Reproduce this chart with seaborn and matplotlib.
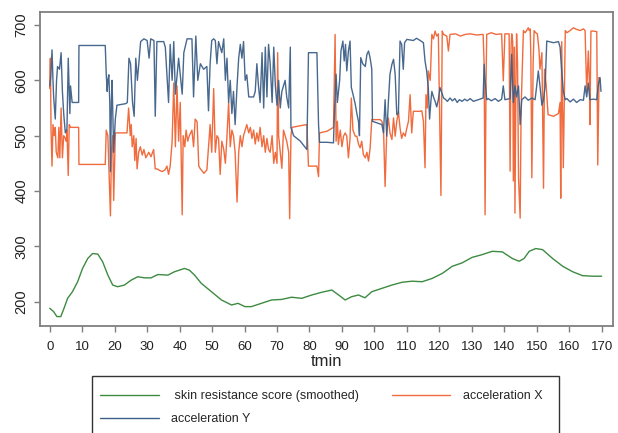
import matplotlib
matplotlib.use("Agg")
import matplotlib.pyplot as plt
import matplotlib.patches as mpatches
from matplotlib.lines import Line2D
import pandas as pd
import seaborn as sns

# skin resistance score (smoothed), (tmin, value)
skin_points = [
    (0, 188), (1.2, 182), (2.2, 173), (3.4, 173), (4.4, 188), (5.5, 206), (7.0, 218),
    (8.6, 236), (10.1, 260), (11.7, 278), (13.2, 287), (14.8, 286), (16.3, 272),
    (17.9, 248), (19.4, 230), (20.9, 227), (23.0, 230), (25.1, 239), (27.1, 245),
    (29.2, 243), (31.2, 243), (33.3, 249), (36.4, 248), (38.4, 254), (41.5, 260),
    (43.0, 257), (44.6, 248), (46.7, 233), (49.8, 218), (52.9, 203), (56.0, 194),
    (58.0, 197), (60.1, 191), (62.1, 191), (65.2, 197), (68.3, 203), (71.4, 204),
    (74.5, 208), (77.6, 206), (80.7, 212), (83.8, 217), (86.9, 221), (89.0, 212),
    (91.0, 203), (93.0, 209), (95.1, 212), (97.1, 207), (99.2, 218), (102.3, 224),
    (105.4, 230), (108.5, 235), (111.6, 237), (114.7, 236), (117.8, 242), (120.9, 251),
    (124.0, 264), (127.0, 270), (130.1, 280), (133.2, 285), (136.3, 291), (139.4, 290),
    (142.5, 278), (144.6, 273), (146.1, 278), (147.7, 291), (149.7, 296), (151.8, 294),
    (154.9, 278), (158.0, 264), (161.1, 254), (164.1, 247), (167.2, 246), (170.0, 246),
]

# acceleration X
acc_x_points = [
    (0.0, 585), (0.2, 640), (0.4, 510), (0.7, 445), (1.0, 520), (1.4, 500), (1.7, 515),
    (2.0, 470), (2.5, 460), (2.8, 515), (3.1, 460), (3.5, 550), (3.9, 460), (4.3, 500),
    (4.8, 495), (5.1, 490), (5.3, 510), (5.7, 428), (6.0, 520), (6.4, 515), (8.9, 515),
    (9.0, 448), (17.1, 448), (17.4, 510), (17.9, 500), (18.3, 430), (18.7, 355),
    (19.0, 470), (19.4, 500), (19.7, 383), (20.2, 505), (23.8, 505), (24.3, 550),
    (24.8, 500), (25.1, 520), (25.4, 480), (25.9, 500), (26.2, 455), (26.6, 495),
    (26.9, 440), (27.4, 470), (27.9, 480), (28.5, 465), (29.0, 475), (29.6, 460),
    (30.5, 470), (31.2, 462), (32.0, 475), (32.5, 440), (33.0, 440), (34.6, 435),
    (35.5, 438), (36.1, 445), (36.6, 430), (37.1, 445), (37.7, 490), (38.2, 595),
    (38.7, 480), (39.2, 590), (39.7, 490), (40.2, 560), (40.8, 357), (41.1, 500),
    (41.6, 480), (42.0, 510), (42.5, 490), (43.0, 500), (43.8, 510), (44.3, 480),
    (44.8, 530), (45.4, 525), (45.9, 445), (46.4, 440), (47.5, 432), (48.4, 438),
    (48.9, 480), (49.4, 520), (49.9, 470), (50.5, 585), (51.0, 470), (51.5, 500),
    (52.0, 495), (52.5, 430), (53.0, 490), (53.6, 475), (54.1, 450), (54.6, 500),
    (55.1, 560), (55.6, 480), (56.1, 510), (56.6, 500), (57.1, 470), (57.7, 380),
    (58.2, 470), (58.7, 500), (59.2, 480), (59.7, 500), (60.2, 510), (60.7, 520),
    (61.3, 505), (61.8, 515), (62.3, 495), (62.8, 510), (63.3, 485), (63.8, 505),
    (64.3, 490), (64.8, 515), (65.4, 480), (65.9, 500), (66.4, 470), (66.9, 495),
    (67.4, 475), (67.9, 470), (68.5, 500), (69.0, 450), (69.5, 470), (70.0, 450),
    (70.2, 650), (70.5, 500), (71.0, 470), (71.5, 441), (72.0, 510), (72.5, 500),
    (73.0, 490), (73.6, 470), (73.9, 350), (74.3, 500), (74.6, 515), (77.2, 518),
    (79.2, 520), (79.7, 445), (82.3, 445), (82.8, 426), (83.1, 505), (85.4, 508),
    (87.4, 515), (87.9, 683), (88.2, 490), (88.6, 526), (88.9, 484), (89.5, 510),
    (90.0, 480), (90.5, 499), (91.0, 505), (91.5, 499), (92.0, 460), (92.5, 495),
    (92.9, 568), (93.4, 510), (94.1, 499), (94.6, 499), (95.1, 485), (95.6, 478),
    (96.1, 490), (96.6, 466), (97.2, 460), (97.7, 470), (98.2, 454), (98.7, 478),
    (99.2, 529), (101.8, 529), (102.3, 526), (102.8, 514), (103.3, 408), (103.8, 505),
    (104.3, 532), (104.8, 505), (105.4, 493), (105.9, 532), (106.4, 499), (106.9, 526),
    (107.4, 544), (107.9, 514), (108.4, 495), (108.9, 505), (109.5, 499), (110.0, 514),
    (110.5, 526), (111.0, 574), (111.5, 505), (112.0, 544), (114.1, 544), (114.6, 545),
    (115.1, 526), (115.6, 442), (115.9, 574), (116.3, 550), (116.6, 617), (117.2, 600),
    (117.7, 683), (118.2, 675), (118.7, 689), (119.2, 680), (119.7, 684), (120.5, 392),
    (120.9, 689), (121.3, 683), (122.3, 680), (122.8, 653), (123.3, 683), (125.0, 684),
    (126.5, 680), (128.0, 683), (129.5, 684), (131.5, 682), (133.5, 683), (133.8, 630),
    (134.1, 357), (134.4, 600), (134.6, 683), (136.0, 686), (137.5, 683), (139.2, 684),
    (139.7, 599), (140.2, 684), (141.5, 684), (141.8, 436), (142.1, 660), (142.3, 684),
    (142.6, 670), (142.8, 418), (143.1, 660), (143.3, 360), (143.6, 599), (143.8, 684),
    (144.1, 630), (144.4, 424), (144.9, 351), (145.2, 550), (145.6, 630), (145.9, 690),
    (146.4, 686), (146.9, 690), (147.4, 695), (147.7, 690), (148.0, 693), (148.2, 640),
    (148.5, 424), (148.9, 630), (149.2, 690), (149.7, 686), (150.2, 684), (150.7, 655),
    (151.0, 620), (151.6, 650), (152.1, 405), (152.4, 620), (152.9, 592), (153.5, 538),
    (155.2, 535), (156.7, 540), (157.2, 560), (157.4, 387), (157.7, 670), (158.2, 442),
    (158.8, 690), (159.3, 686), (160.3, 690), (161.3, 695), (162.3, 692), (163.4, 690),
    (164.4, 693), (164.9, 690), (165.4, 580), (165.9, 653), (166.2, 600), (166.4, 520),
    (166.7, 689), (167.5, 689), (168.5, 688), (168.8, 447), (169.2, 605), (169.5, 600),
]

# acceleration Y
acc_y_points = [
    (0.0, 590), (0.3, 605), (0.7, 655), (1.0, 600), (1.2, 570), (1.7, 530), (2.1, 600),
    (2.4, 625), (3.0, 620), (3.5, 650), (3.9, 580), (4.3, 540), (4.8, 505), (5.3, 512),
    (5.7, 640), (6.2, 540), (6.4, 590), (6.9, 560), (8.9, 560), (9.0, 663), (17.1, 663),
    (17.4, 612), (17.7, 580), (17.9, 600), (18.2, 610), (18.5, 560), (18.7, 435),
    (19.0, 560), (19.2, 600), (19.7, 470), (20.2, 530), (20.7, 555), (23.5, 558),
    (23.9, 560), (24.4, 640), (24.9, 630), (25.5, 560), (26.0, 535), (26.5, 640),
    (27.0, 600), (28.0, 670), (29.0, 675), (30.0, 672), (30.6, 640), (31.1, 675),
    (32.1, 672), (32.5, 535), (33.0, 670), (35.1, 670), (35.6, 660), (36.6, 560),
    (37.1, 665), (37.7, 600), (38.2, 670), (38.7, 575), (39.7, 640), (40.8, 575),
    (41.3, 650), (42.3, 675), (43.8, 675), (44.3, 570), (45.0, 680), (45.6, 600),
    (46.4, 630), (47.4, 620), (48.4, 625), (48.9, 545), (49.4, 630), (49.9, 672),
    (50.5, 675), (51.0, 672), (51.5, 630), (52.0, 670), (53.0, 650), (53.6, 675),
    (54.1, 600), (54.6, 640), (55.1, 560), (55.6, 600), (56.1, 540), (56.6, 580),
    (57.1, 520), (57.7, 590), (58.2, 640), (58.7, 665), (59.2, 640), (59.7, 670),
    (60.2, 600), (60.7, 610), (61.3, 570), (62.8, 570), (63.3, 580), (63.8, 630),
    (64.3, 590), (64.8, 560), (65.4, 650), (65.9, 550), (66.4, 660), (66.9, 570),
    (67.4, 665), (67.9, 630), (68.5, 560), (69.0, 660), (69.5, 590), (70.0, 555),
    (70.5, 600), (71.0, 550), (71.5, 580), (72.5, 600), (73.0, 570), (73.6, 550),
    (74.1, 660), (74.3, 514), (74.6, 510), (75.1, 500), (77.2, 490), (79.2, 475),
    (79.7, 650), (82.3, 650), (82.5, 600), (82.8, 520), (83.1, 488), (85.4, 488),
    (87.4, 487), (87.6, 526), (88.2, 611), (88.6, 560), (89.3, 600), (89.7, 653),
    (90.3, 671), (90.7, 635), (91.1, 665), (91.5, 617), (92.0, 653), (92.5, 671),
    (92.9, 587), (93.4, 575), (94.1, 557), (94.6, 540), (95.1, 526), (95.4, 500),
    (95.8, 641), (96.4, 630), (97.2, 625), (97.7, 647), (98.2, 653), (98.7, 640),
    (99.2, 620), (99.4, 526), (102.3, 520), (102.8, 505), (103.3, 565), (103.8, 499),
    (104.3, 560), (104.8, 611), (105.4, 629), (105.9, 638), (106.4, 611), (106.9, 538),
    (107.4, 540), (107.9, 671), (108.4, 665), (108.9, 620), (109.3, 668), (110.0, 674),
    (112.0, 672), (113.0, 676), (114.1, 672), (115.1, 668), (115.6, 635), (116.1, 617),
    (116.6, 587), (117.0, 530), (117.4, 562), (117.7, 580), (118.2, 570), (118.7, 562),
    (119.2, 552), (119.7, 565), (120.2, 587), (120.8, 577), (121.3, 568), (121.8, 566),
    (122.5, 562), (123.3, 568), (124.0, 563), (124.8, 567), (125.5, 560), (126.2, 565),
    (127.0, 562), (127.8, 566), (128.6, 563), (129.5, 567), (130.5, 562), (131.5, 564),
    (132.5, 566), (133.5, 568), (133.8, 629), (134.1, 600), (134.6, 565), (135.1, 567),
    (136.0, 563), (137.2, 567), (138.2, 562), (139.2, 566), (139.7, 590), (140.2, 565),
    (141.8, 567), (142.3, 647), (142.6, 590), (142.8, 560), (143.3, 590), (143.8, 570),
    (144.4, 590), (144.9, 520), (145.4, 565), (146.4, 570), (147.4, 564), (148.5, 568),
    (149.5, 565), (150.0, 590), (150.5, 617), (151.0, 590), (151.6, 555), (152.1, 565),
    (152.6, 590), (153.1, 671), (155.2, 668), (156.7, 670), (157.2, 660), (157.7, 617),
    (158.2, 580), (158.8, 565), (159.3, 567), (160.3, 561), (161.3, 566), (162.3, 560),
    (163.4, 565), (164.4, 564), (164.9, 590), (165.4, 570), (165.9, 595), (166.4, 565),
    (167.5, 566), (168.5, 565), (169.0, 593), (169.5, 605), (169.8, 580),
]

x_ticks = list(range(0, 171, 10))
y_ticks = [200, 300, 400, 500, 600, 700]

GREEN = "#3d8a41"
ORANGE = "#f06b3d"
BLUE = "#3e6088"
GREY = "#7f7f7f"

sns.set_style("white")
plt.rcParams["font.family"] = ["Liberation Sans", "DejaVu Sans"]

skin = pd.DataFrame(skin_points, columns=["tmin", "value"])
acc_x = pd.DataFrame(acc_x_points, columns=["tmin", "value"])
acc_y = pd.DataFrame(acc_y_points, columns=["tmin", "value"])

fig = plt.figure(figsize=(6.18, 4.33), dpi=100)
ax = fig.add_axes([40 / 618, 1 - 326 / 433, 573 / 618, 314 / 433])

sns.lineplot(data=skin, x="tmin", y="value", ax=ax, color=GREEN, lw=1.0,
             estimator=None, sort=False)
sns.lineplot(data=acc_x, x="tmin", y="value", ax=ax, color=ORANGE, lw=1.0,
             estimator=None, sort=False)
sns.lineplot(data=acc_y, x="tmin", y="value", ax=ax, color=BLUE, lw=1.0,
             estimator=None, sort=False, alpha=0.95)

ax.set_xlim(-3.0, 173.5)
ax.set_ylim(156, 723.5)
ax.set_xticks(x_ticks)
ax.set_yticks(y_ticks)
ax.set_xlabel("tmin", fontsize=12, labelpad=1)
ax.set_ylabel("")

for side in ax.spines.values():
    side.set_color(GREY)
    side.set_linewidth(1.3)
ax.tick_params(direction="out", length=4.5, width=1, color=GREY,
               labelcolor="#222222", bottom=True, left=True)
ax.tick_params(axis="x", labelsize=9.5, pad=6)
ax.tick_params(axis="y", labelsize=10.5, labelrotation=90, pad=4)
plt.setp(ax.get_yticklabels(), va="center")

# legend below the plot, box drawn by hand so the frame can run off the bottom
handles = [
    Line2D([], [], color=GREEN, lw=1.0),
    Line2D([], [], color=BLUE, lw=1.0),
    Line2D([], [], color=ORANGE, lw=1.0),
]
labels = [" skin resistance score (smoothed)", "acceleration Y", "acceleration X"]
fig.legend(handles, labels, ncol=2, loc="upper left",
           bbox_to_anchor=(100 / 618, 1 - 390 / 433), frameon=False,
           fontsize=9, handlelength=4.7, handletextpad=1.0, columnspacing=2.6,
           labelspacing=0.9, borderpad=0, borderaxespad=0)
box = mpatches.Rectangle((92 / 618, -0.1), (559 - 92) / 618, 0.1 + (1 - 376 / 433),
                         transform=fig.transFigure, fill=False,
                         edgecolor="#333333", lw=1.0)
fig.add_artist(box)

fig.savefig("out.png", dpi=100)
